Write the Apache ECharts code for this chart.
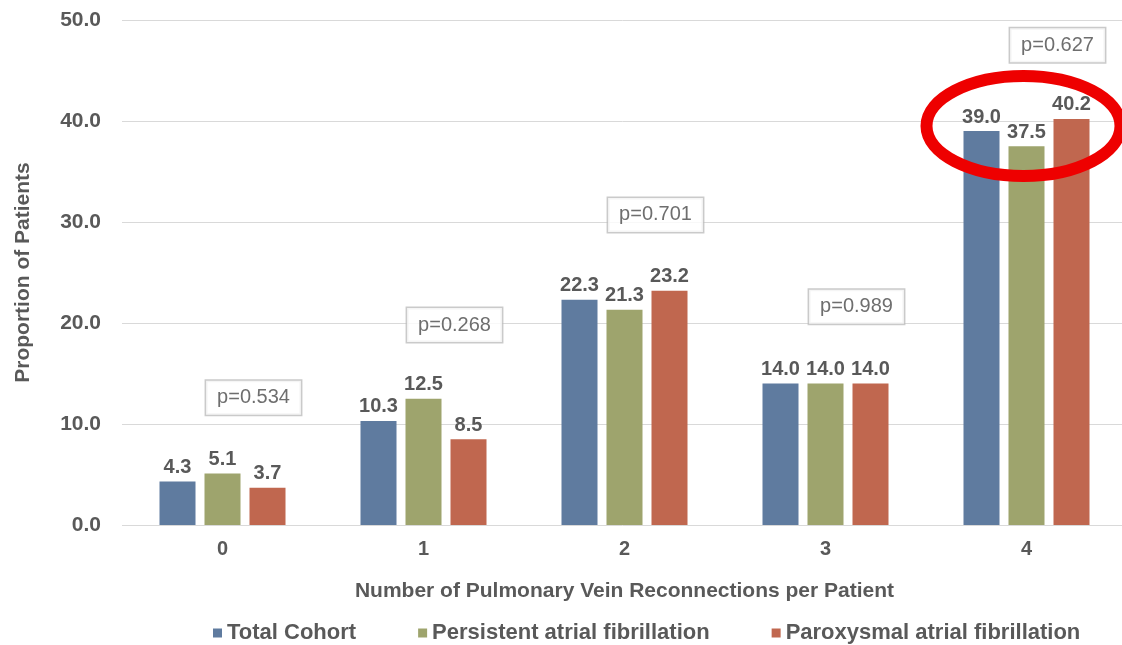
<!DOCTYPE html>
<html>
<head>
<meta charset="utf-8">
<script src="https://cdn.jsdelivr.net/npm/echarts@6/dist/echarts.min.js"></script>
<style>
  html, body { margin: 0; padding: 0; background: #fff; }
  #chart { width: 1122px; height: 645px; }
</style>
</head>
<body>
<div id="chart"></div>
<script>
// Reconnections per patient (x categories)
var categories = ['0', '1', '2', '3', '4'];
// Share of patients (%) by group
var totalCohort = [4.3, 10.3, 22.3, 14.0, 39.0];
var persistentAF = [5.1, 12.5, 21.3, 14.0, 37.5];
var paroxysmalAF = [3.7, 8.5, 23.2, 14.0, 40.2];
// Between-group p-values and the height of their boxes
var pValues = ['p=0.534', 'p=0.268', 'p=0.701', 'p=0.989', 'p=0.627'];
var pBoxLevel = [12.6, 19.8, 30.7, 21.6, 47.5];
var yTicks = [0, 10, 20, 30, 40, 50];

var FONT = '"Liberation Sans", Arial, sans-serif';
var TEXT = '#595959';

var chart = echarts.init(document.getElementById('chart'));

function barSeries(name, data, color) {
  return {
    name: name,
    type: 'bar',
    data: data,
    barWidth: 36,
    barGap: '25%',
    itemStyle: { color: color },
    label: {
      show: true,
      position: 'top',
      distance: 4,
      formatter: function (p) { return p.value.toFixed(1); },
      color: TEXT,
      fontFamily: FONT,
      fontWeight: 'bold',
      fontSize: 20
    }
  };
}

var option = {
  backgroundColor: '#fff',
  animation: false,
  grid: { left: 122, width: 1005, top: 20, bottom: 120, containLabel: false, outerBoundsMode: 'none' },
  legend: {
    bottom: -4,
    left: 208,
    itemWidth: 9,
    itemHeight: 9,
    itemGap: 62,
    icon: 'rect',
    textStyle: { color: TEXT, fontFamily: FONT, fontWeight: 'bold', fontSize: 22 },
    data: ['Total Cohort', 'Persistent atrial fibrillation', 'Paroxysmal atrial fibrillation']
  },
  xAxis: {
    type: 'category',
    data: categories,
    name: 'Number of Pulmonary Vein Reconnections per Patient',
    nameLocation: 'middle',
    nameGap: 56,
    nameTextStyle: { color: TEXT, fontFamily: FONT, fontWeight: 'bold', fontSize: 21 },
    axisLine: { show: false },
    axisTick: { show: false },
    axisLabel: { color: TEXT, fontFamily: FONT, fontWeight: 'bold', fontSize: 20, margin: 14 }
  },
  yAxis: {
    type: 'value',
    min: yTicks[0],
    max: yTicks[yTicks.length - 1],
    interval: 10,
    name: 'Proportion of Patients',
    nameLocation: 'middle',
    nameGap: 88,
    nameTextStyle: { color: TEXT, fontFamily: FONT, fontWeight: 'bold', fontSize: 21 },
    axisLabel: {
      color: TEXT, fontFamily: FONT, fontWeight: 'bold', fontSize: 21, margin: 21,
      formatter: function (v) { return v.toFixed(1); }
    },
    splitLine: { lineStyle: { color: '#d9d9d9', width: 1 } }
  },
  series: [
    barSeries('Total Cohort', totalCohort, '#5f7b9f'),
    barSeries('Persistent atrial fibrillation', persistentAF, '#9ea46d'),
    barSeries('Paroxysmal atrial fibrillation', paroxysmalAF, '#c0674f'),
    {
      name: 'p',
      type: 'scatter',
      symbolSize: 0,
      silent: true,
      z: 5,
      data: pBoxLevel.map(function (v, i) { return [i, v]; }),
      label: {
        show: true,
        position: 'inside',
        offset: [31, 0],
        formatter: function (p) { return pValues[p.dataIndex]; },
        color: '#4a4a4a',
        fontFamily: FONT,
        fontSize: 20,
        backgroundColor: '#fff',
        borderColor: '#bdbdbd',
        borderWidth: 1.5,
        padding: [7, 11, 7, 11]
      }
    }
  ]
};

chart.setOption(option);

// Red highlight ring around the group with four reconnections
var c = chart.convertToPixel({ seriesIndex: 1 }, [4, 39]);
chart.setOption({
  graphic: [{
    type: 'ellipse',
    shape: { cx: c[0] - 3, cy: 126, rx: 97, ry: 50 },
    style: { fill: 'none', stroke: '#ee0000', lineWidth: 12 },
    z: 100
  }]
});
</script>
</body>
</html>
